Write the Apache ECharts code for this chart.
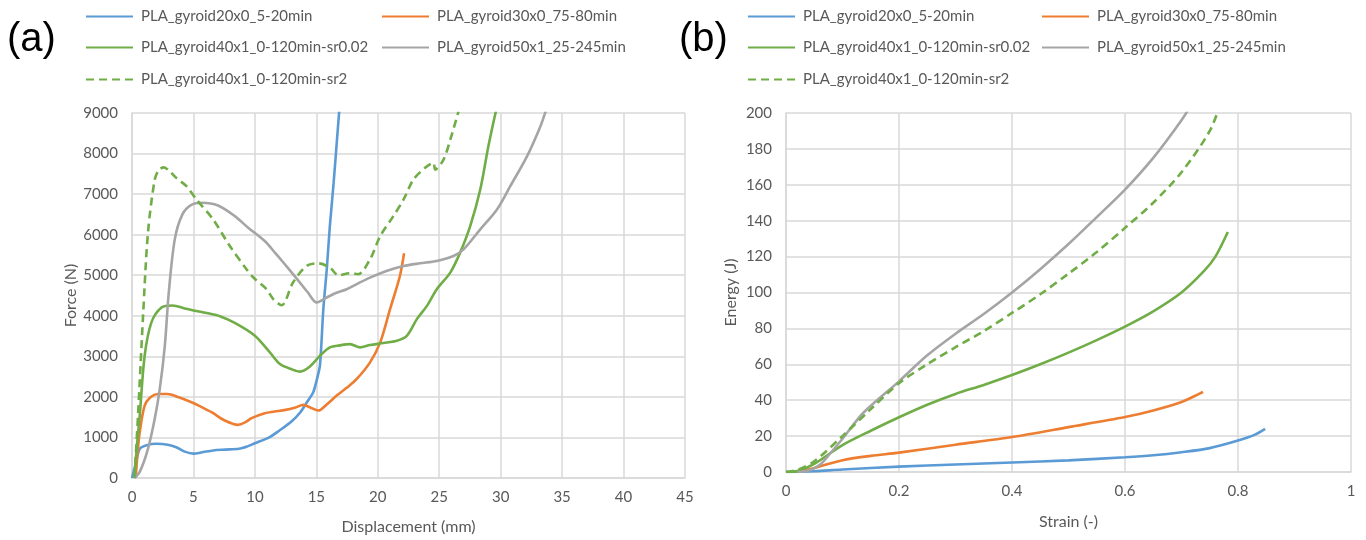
<!DOCTYPE html>
<html>
<head>
<meta charset="utf-8">
<script src="https://cdn.jsdelivr.net/npm/echarts/dist/echarts.min.js"></script>
<style>
  html, body { margin: 0; padding: 0; background: #ffffff; }
  #chart { width: 1366px; height: 540px; }
</style>
</head>
<body>
<div id="chart"></div>
<script>
// Specimen names (legend entries, shared by both panels)
const seriesNames = [
  'PLA_gyroid20x0_5-20min',
  'PLA_gyroid30x0_75-80min',
  'PLA_gyroid40x1_0-120min-sr0.02',
  'PLA_gyroid50x1_25-245min',
  'PLA_gyroid40x1_0-120min-sr2'
];

// Panel (a): force vs displacement, [displacement mm, force N]
const forceG20 = [[0,0],[0.3,350],[0.63,720],[1.2,810],[2.0,843],[2.9,820],[3.6,760],[4.3,650],[5.0,600],[5.8,640],[6.6,680],[7.6,700],[8.7,720],[9.4,780],[9.9,843],[11.2,1008],[12.0,1171],[13.0,1400],[13.7,1622],[14.3,1900],[14.75,2115],[15.1,2500],[15.3,2790],[15.57,4163],[15.85,5150],[16.1,6211],[16.4,7250],[16.66,8262],[16.87,9080]];
const forceG30 = [[0.3,0],[0.45,600],[0.63,1130],[1.03,1785],[1.5,1990],[2.1,2073],[2.9,2073],[3.8,1990],[4.84,1868],[5.6,1760],[6.47,1623],[7.55,1417],[8.64,1311],[9.2,1370],[9.73,1475],[10.8,1598],[11.6,1638],[12.5,1680],[13.3,1740],[13.94,1802],[14.5,1740],[15.16,1663],[15.8,1800],[16.66,2032],[17.5,2230],[18.29,2442],[19.37,2852],[20.2,3344],[21.0,4163],[21.8,4982],[22.14,5540]];
const forceG40a = [[0.2,0],[0.4,800],[0.63,1540],[1.03,3015],[1.58,3836],[2.4,4205],[3.3,4255],[4.3,4180],[5.0,4130],[6.2,4060],[7.15,3990],[8.4,3820],[10.0,3510],[11.22,3098],[12.04,2810],[13.0,2680],[13.67,2622],[14.4,2729],[15.3,3015],[16.1,3221],[16.9,3270],[17.74,3302],[18.56,3221],[19.37,3278],[20.46,3327],[21.55,3384],[22.36,3507],[23.18,3917],[24.0,4244],[24.8,4655],[25.9,5065],[26.7,5557],[27.52,6211],[28.34,7113],[29.0,8178],[29.64,9080]];
const forceG50 = [[0.2,0],[0.63,150],[1.3,720],[1.85,1458],[2.26,2196],[2.67,3260],[3.0,4600],[3.48,5884],[4.1,6500],[4.8,6730],[5.66,6786],[7.0,6720],[8.37,6457],[9.45,6172],[10.8,5842],[11.63,5557],[12.3,5320],[13.4,4917],[14.3,4580],[15.03,4327],[15.84,4450],[16.6,4560],[17.47,4655],[18.4,4800],[19.37,4942],[20.7,5105],[22.1,5228],[23.45,5294],[24.8,5351],[26.16,5473],[26.98,5638],[28.34,6130],[29.7,6622],[30.78,7195],[32.14,7932],[33.23,8670],[33.7,9080]];
const forceG40b = [[0.2,0],[0.49,1540],[0.9,3998],[1.3,6049],[1.85,7359],[2.2,7600],[2.6,7660],[3.0,7580],[3.6,7400],[4.43,7195],[5.25,6868],[6.6,6376],[7.96,5719],[9.32,5146],[9.86,4950],[10.95,4655],[11.5,4409],[12.18,4261],[13.1,4819],[14.2,5228],[15.16,5294],[16.11,5188],[16.8,4999],[17.74,5048],[18.4,5024],[19.37,5392],[20.2,5965],[21.27,6457],[22.1,6868],[22.9,7359],[23.85,7647],[24.53,7770],[24.67,7605],[25.35,7851],[25.9,8343],[26.57,9039]];

// Panel (b): energy vs strain, [strain -, energy J]
const energyG20 = [[0,0],[0.02,0.1],[0.05,0.4],[0.1,1.4],[0.2,3.0],[0.3,4.2],[0.4,5.3],[0.5,6.5],[0.6,8.2],[0.65,9.3],[0.7,11.0],[0.75,13.3],[0.8,17.5],[0.83,20.8],[0.848,24]];
const energyG30 = [[0.02,0],[0.05,2.2],[0.1,6.6],[0.15,9.0],[0.2,10.8],[0.3,15.2],[0.4,19.5],[0.5,25],[0.6,30.6],[0.65,34.3],[0.7,39],[0.738,44.6]];
const energyG40a = [[0,0],[0.02,0.5],[0.05,4.5],[0.1,15],[0.15,23],[0.2,30.5],[0.25,37.5],[0.3,43.5],[0.35,48.5],[0.4,54],[0.45,60],[0.5,66.5],[0.55,73.5],[0.6,81],[0.65,89.5],[0.7,100],[0.74,112],[0.76,120],[0.782,133.7]];
const energyG50 = [[0.02,0],[0.04,0.8],[0.06,4],[0.08,11],[0.1,18.5],[0.137,33],[0.2,50.5],[0.25,65],[0.3,77],[0.35,88],[0.4,100],[0.45,113],[0.5,127],[0.55,142],[0.6,157.3],[0.65,175],[0.7,196],[0.72,206]];
const energyG40b = [[0,0],[0.02,1.2],[0.05,6],[0.1,20],[0.15,35],[0.2,49.5],[0.25,60],[0.3,69.5],[0.35,78.5],[0.4,88.6],[0.45,99],[0.5,110.5],[0.55,122.5],[0.6,136],[0.65,150],[0.7,167],[0.75,190],[0.77,206]];

// Axis ranges and tick steps
const forceAxis = { min: 0, max: 9000, interval: 1000 };
const dispAxis = { min: 0, max: 45, interval: 5 };
const energyAxis = { min: 0, max: 200, interval: 20 };
const strainAxis = { min: 0, max: 1, interval: 0.2 };

const colors = ['#5B9BD5', '#ED7D31', '#70AD47', '#A5A5A5', '#70AD47'];
const FONT = 'Lato, "Open Sans", sans-serif';
const GRID_COLOR = '#D9D9D9';
const TEXT_COLOR = '#595959';

function labelStyle(margin) {
  return {
    color: TEXT_COLOR, fontSize: 15, fontFamily: FONT, margin: margin,
    formatter: function (v) { return String(v); }
  };
}

function valueAxis(range, gridIndex, name, nameGap, margin) {
  return {
    type: 'value',
    gridIndex: gridIndex,
    min: range.min, max: range.max, interval: range.interval,
    name: name,
    nameLocation: 'middle',
    nameGap: nameGap,
    nameTextStyle: { color: TEXT_COLOR, fontSize: 16, fontFamily: FONT },
    axisLine: { show: true, lineStyle: { color: GRID_COLOR, width: 1.5 } },
    axisTick: { show: false },
    axisLabel: labelStyle(margin),
    splitLine: { show: true, lineStyle: { color: GRID_COLOR, width: 1.5 } }
  };
}

function lineSeries(idx, data, xi, yi) {
  return {
    name: seriesNames[idx],
    type: 'line',
    xAxisIndex: xi, yAxisIndex: yi,
    data: data,
    symbol: 'none',
    smooth: 0.3,
    clip: true,
    color: colors[idx],
    lineStyle: { color: colors[idx], width: 2.6, type: idx === 4 ? [8, 5] : 'solid' },
    z: 3
  };
}

// One legend block per entry so the two-column layout lines up
const legendCols = [[85, 381], [747, 1041]];
const legendRows = [9, 40, 72];
const legendSlots = [[0, 0], [0, 1], [1, 0], [1, 1], [2, 0]];
const legends = [];
legendCols.forEach(function (cols) {
  legendSlots.forEach(function (slot, i) {
    legends.push({
      data: [seriesNames[i]],
      left: cols[slot[1]],
      top: legendRows[slot[0]],
      padding: 0,
      itemWidth: 47,
      itemHeight: 14,
      itemGap: 0,
      selectedMode: false,
      itemStyle: { opacity: 0 },
      textStyle: { color: TEXT_COLOR, fontSize: 15, fontFamily: FONT, padding: [0, 0, 0, 3] }
    });
  });
});

const option = {
  backgroundColor: '#ffffff',
  animation: false,
  title: [
    { text: '(a)', left: 7, top: 20, padding: 0, textStyle: { fontSize: 40, fontWeight: 'normal', color: '#000', fontFamily: '"Liberation Sans", Arial, sans-serif' } },
    { text: '(b)', left: 679, top: 20, padding: 0, textStyle: { fontSize: 40, fontWeight: 'normal', color: '#000', fontFamily: '"Liberation Sans", Arial, sans-serif' } }
  ],
  legend: legends,
  grid: [
    { left: 132, top: 113, width: 553, height: 366 },
    { left: 786, top: 113, width: 565, height: 359 }
  ],
  xAxis: [
    valueAxis(dispAxis, 0, 'Displacement (mm)', 41, 12),
    valueAxis(strainAxis, 1, 'Strain (-)', 42, 12)
  ],
  yAxis: [
    valueAxis(forceAxis, 0, 'Force (N)', 48, 14),
    valueAxis(energyAxis, 1, 'Energy (J)', 47, 14)
  ],
  series: [
    lineSeries(0, forceG20, 0, 0),
    lineSeries(1, forceG30, 0, 0),
    lineSeries(2, forceG40a, 0, 0),
    lineSeries(3, forceG50, 0, 0),
    lineSeries(4, forceG40b, 0, 0),
    lineSeries(0, energyG20, 1, 1),
    lineSeries(1, energyG30, 1, 1),
    lineSeries(2, energyG40a, 1, 1),
    lineSeries(3, energyG50, 1, 1),
    lineSeries(4, energyG40b, 1, 1)
  ]
};

const chart = echarts.init(document.getElementById('chart'), null, { renderer: 'canvas' });
chart.setOption(option);
</script>
</body>
</html>
